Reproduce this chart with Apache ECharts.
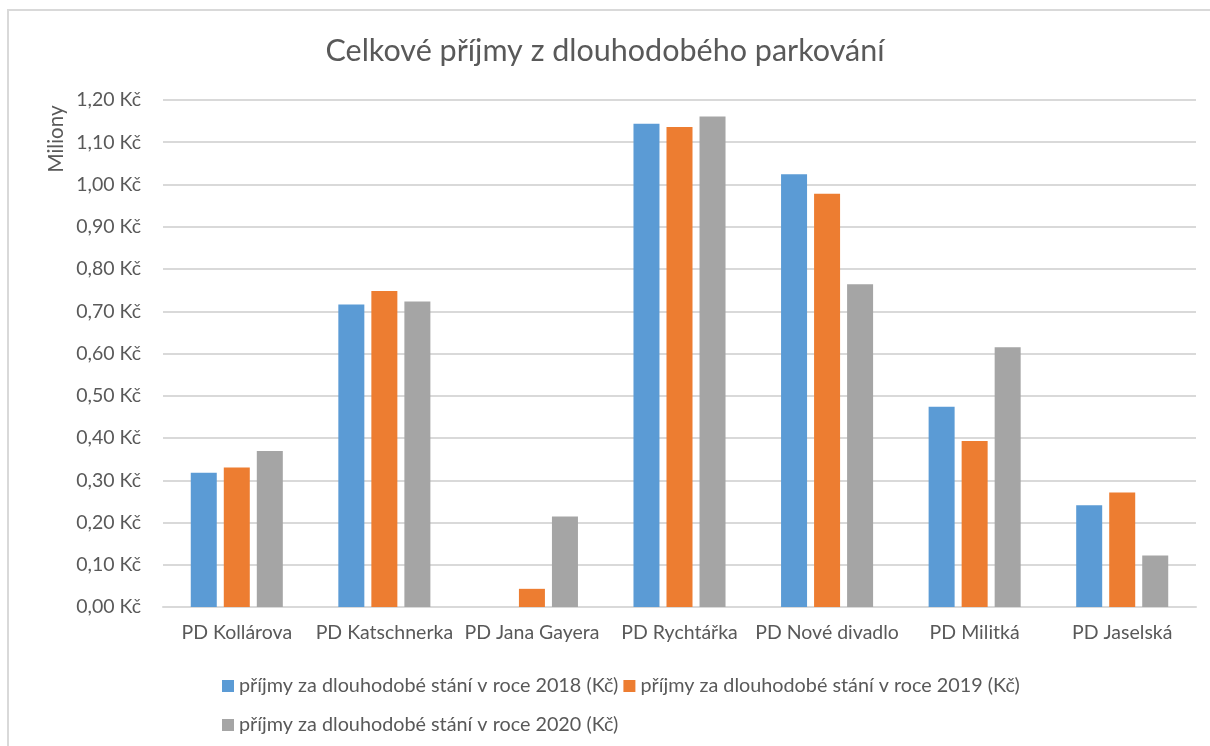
<!DOCTYPE html>
<html>
<head>
<meta charset="utf-8">
<title>Celkové příjmy z dlouhodobého parkování</title>
<script src="https://cdn.jsdelivr.net/npm/echarts@6/dist/echarts.min.js"></script>
<style>
  html, body { margin: 0; padding: 0; background: #ffffff; }
  #chart { width: 1210px; height: 746px; }
</style>
</head>
<body>
<div id="chart"></div>
<script>
// Parking houses
const categories = ['PD Kollárova', 'PD Katschnerka', 'PD Jana Gayera', 'PD Rychtářka', 'PD Nové divadlo', 'PD Militká', 'PD Jaselská'];

// Revenue from long-term parking, millions of CZK
const revenue2018 = [0.318, 0.716, 0, 1.144, 1.024, 0.474, 0.241];
const revenue2019 = [0.330, 0.748, 0.043, 1.136, 0.978, 0.393, 0.271];
const revenue2020 = [0.369, 0.723, 0.214, 1.161, 0.764, 0.615, 0.122];

const seriesNames = [
  'příjmy za dlouhodobé stání v roce 2018 (Kč)',
  'příjmy za dlouhodobé stání v roce 2019 (Kč)',
  'příjmy za dlouhodobé stání v roce 2020 (Kč)'
];

// Value axis range
const yMin = 0;
const yMax = 1.2;
const yStep = 0.1;

const FONT = 'Lato, "Open Sans", sans-serif';
const TEXT = '#595959';
const GRID = '#d9d9d9';

const chart = echarts.init(document.getElementById('chart'), null, { renderer: 'canvas' });

function bar(name, data, color) {
  return {
    name: name,
    type: 'bar',
    data: data,
    barWidth: 26,
    barGap: '27%',
    itemStyle: { color: color },
    emphasis: { disabled: true }
  };
}

chart.setOption({
  backgroundColor: '#ffffff',
  animation: false,
  textStyle: { fontFamily: FONT },
  title: {
    text: 'Celkové příjmy z dlouhodobého parkování',
    left: 'center',
    top: 31,
    textStyle: { fontFamily: FONT, fontSize: 30.5, fontWeight: 'normal', color: TEXT }
  },
  graphic: [
    {
      type: 'rect',
      shape: { x: 8, y: 10, width: 1230, height: 780 },
      style: { fill: 'none', stroke: GRID, lineWidth: 2 },
      silent: true,
      z: -1
    },
    {
      type: 'text',
      x: 56,
      y: 139,
      rotation: Math.PI / 2,
      style: {
        text: 'Miliony',
        fontFamily: FONT,
        fontSize: 20.5,
        fill: TEXT,
        textAlign: 'center',
        textVerticalAlign: 'middle'
      }
    }
  ],
  legend: [
    {
      data: seriesNames.slice(0, 2),
      left: 217,
      top: 671,
      itemWidth: 12,
      itemHeight: 12,
      itemGap: 5,
      icon: 'rect',
      selectedMode: false,
      textStyle: { fontFamily: FONT, fontSize: 19.8, color: TEXT }
    },
    {
      data: seriesNames.slice(2),
      left: 217,
      top: 710,
      itemWidth: 12,
      itemHeight: 12,
      icon: 'rect',
      selectedMode: false,
      textStyle: { fontFamily: FONT, fontSize: 19.8, color: TEXT }
    }
  ],
  grid: { left: 163, right: 14, top: 100, bottom: 139, containLabel: false },
  xAxis: {
    type: 'category',
    data: categories,
    axisLine: { show: true, lineStyle: { color: GRID, width: 2 } },
    axisTick: { show: false },
    axisLabel: { color: TEXT, fontFamily: FONT, fontSize: 19.5, margin: 16, interval: 0 }
  },
  yAxis: {
    type: 'value',
    min: yMin,
    max: yMax,
    interval: yStep,
    axisLine: { show: false },
    axisTick: { show: false },
    splitLine: { lineStyle: { color: GRID, width: 2 } },
    axisLabel: {
      color: TEXT,
      fontFamily: FONT,
      fontSize: 19.5,
      margin: 22,
      formatter: v => v.toFixed(2).replace('.', ',') + ' Kč'
    }
  },
  series: [
    bar(seriesNames[0], revenue2018, '#5b9bd5'),
    bar(seriesNames[1], revenue2019, '#ed7d31'),
    bar(seriesNames[2], revenue2020, '#a5a5a5')
  ]
});
</script>
</body>
</html>
